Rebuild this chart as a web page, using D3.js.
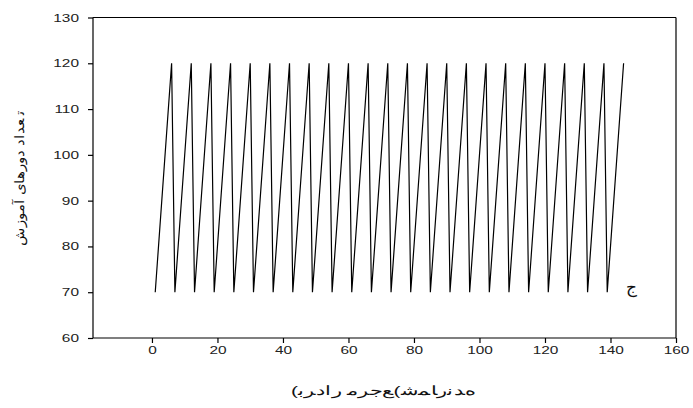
<!DOCTYPE html>
<html><head><meta charset="utf-8">
<script src="https://cdn.jsdelivr.net/npm/d3@7"></script>
<style>
body{margin:0;background:#fff;}
svg{display:block;}
text{font-family:"Liberation Sans",Arial,sans-serif;}
</style></head>
<body><svg id="c" width="693" height="408"></svg>
<script>
const xValues = [1,6,7,12,13,18,19,24,25,30,31,36,37,42,43,48,49,54,55,60,61,66,67,72,73,78,79,84,85,90,91,96,97,102,103,108,109,114,115,120,121,126,127,132,133,138,139,144];
const yValues = [70,120,70,120,70,120,70,120,70,120,70,120,70,120,70,120,70,120,70,120,70,120,70,120,70,120,70,120,70,120,70,120,70,120,70,120,70,120,70,120,70,120,70,120,70,120,70,120];
const xTicks = [0,20,40,60,80,100,120,140,160];
const yTicks = [60,70,80,90,100,110,120,130];
const xTitle = "ﻩﺪﻧرﺎﻤﺷ)ﻊﺟﺮﻣ رادﺮﺑ)";
const yTitle = "ﺗ ﻌﺪاد دورﻫﺎی آﻣﻮزش";
const panelLabel = "ج";

const svg = d3.select("#c");
const L = 93, R = 676, T = 17.5, B = 338;
const x = d3.scaleLinear().domain([-18, 160]).range([L, R]);
const y = d3.scaleLinear().domain([60, 130]).range([B, T]);

const stretch = 1.4;
function stretchText(sel){
  sel.each(function(){
    const w = this.getComputedTextLength();
    d3.select(this).attr("textLength", w*stretch).attr("lengthAdjust","spacingAndGlyphs");
  });
}

// frame top & right
svg.append("line").attr("x1",L).attr("x2",R).attr("y1",T).attr("y2",T).attr("stroke","#000").attr("stroke-width",1.2);
svg.append("line").attr("x1",R).attr("x2",R).attr("y1",T).attr("y2",B).attr("stroke","#000").attr("stroke-width",1.2);

const xa = svg.append("g").attr("transform",`translate(0,${B})`)
  .call(d3.axisBottom(x).tickValues(xTicks).tickSize(5).tickPadding(3).tickFormat(d3.format("d")));
const ya = svg.append("g").attr("transform",`translate(${L},0)`)
  .call(d3.axisLeft(y).tickValues(yTicks).tickSize(5).tickPadding(9).tickFormat(d3.format("d")));
[xa, ya].forEach(a=>{
  a.select(".domain").attr("stroke","#000").attr("stroke-width",1.2);
  a.selectAll(".tick line").attr("stroke","#000").attr("stroke-width",1.2);
  a.selectAll(".tick text").attr("font-size",11).attr("fill","#222").call(stretchText);
});
xa.select(".domain").attr("d",`M${L},0H${R}`);
ya.select(".domain").attr("d",`M0,${T}V${B}`);

const line = d3.line().x((d,i)=>x(xValues[i])).y((d,i)=>y(yValues[i]));
svg.append("path").datum(yValues).attr("d",line).attr("fill","none").attr("stroke","#000").attr("stroke-width",1.2);

svg.append("text").attr("x", 383.5).attr("y", 395).attr("text-anchor","middle")
  .attr("direction","rtl")
  .attr("font-size",13).attr("fill","#111").text(xTitle)
  .call(s=>s.attr("textLength",185).attr("lengthAdjust","spacingAndGlyphs"));

svg.append("text").attr("transform","translate(24,178) rotate(-90)").attr("text-anchor","middle")
  .attr("direction","rtl")
  .attr("font-size",13).attr("fill","#111").text(yTitle)
  .call(s=>s.attr("textLength",135).attr("lengthAdjust","spacingAndGlyphs"));

svg.append("text").attr("x", 631).attr("y", 293).attr("text-anchor","middle")
  .attr("font-size",17).attr("fill","#111").text(panelLabel);
</script></body></html>
